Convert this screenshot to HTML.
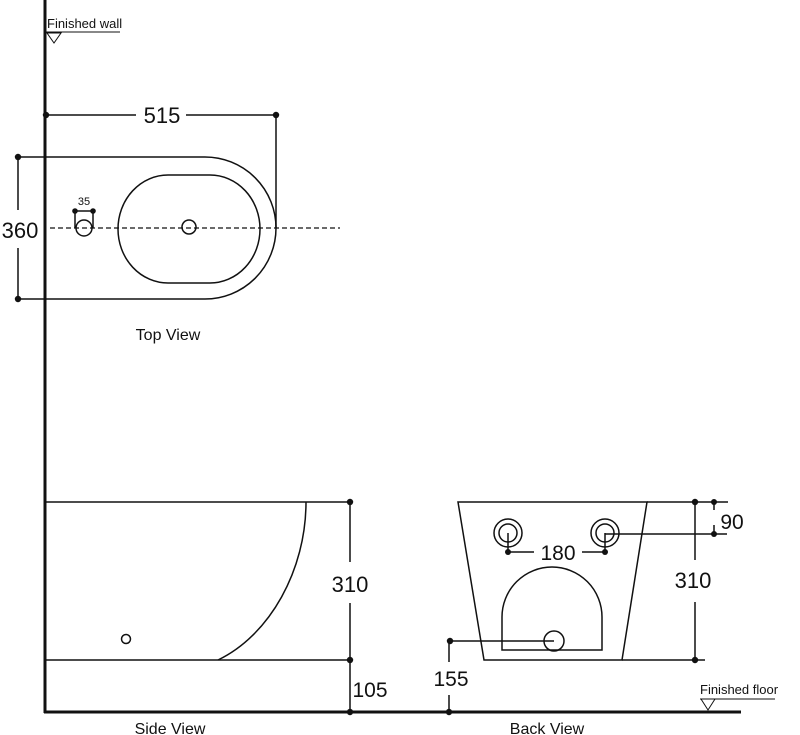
<!DOCTYPE html>
<html><head><meta charset="utf-8"><style>
html,body{margin:0;padding:0;background:#fff;}
svg{display:block;}
text{font-family:"Liberation Sans",sans-serif;fill:#111;}
</style></head><body>
<svg width="800" height="735" viewBox="0 0 800 735" xmlns="http://www.w3.org/2000/svg">
<g stroke="#111" fill="none" stroke-width="1.5">
<!-- wall & floor -->
<line x1="45" y1="0" x2="45" y2="713" stroke-width="3"/>
<line x1="44" y1="712" x2="741" y2="712" stroke-width="3"/>
<!-- finished wall marker -->
<line x1="45" y1="32" x2="120" y2="32" stroke-width="1"/>
<path d="M47 33 L61 33 L54 43 Z" stroke-width="1"/>
<!-- top view -->
<path d="M18 157 L205 157 A71 71 0 0 1 205 299 L18 299"/>
<path d="M168 175 L210 175 A50 54 0 0 1 210 283 L168 283 A50 54 0 0 1 168 175 Z"/>
<circle cx="189" cy="227" r="7"/>
<circle cx="84" cy="228" r="8"/>
<line x1="75" y1="211" x2="93" y2="211"/>
<line x1="75" y1="211" x2="75" y2="228"/>
<line x1="93" y1="211" x2="93" y2="228"/>
<line x1="50" y1="228" x2="340" y2="228" stroke-dasharray="5,3" stroke-width="1.2"/>
<line x1="46" y1="115" x2="136" y2="115"/>
<line x1="186" y1="115" x2="276" y2="115"/>
<line x1="276" y1="115" x2="276" y2="228"/>
<line x1="18" y1="157" x2="18" y2="210"/>
<line x1="18" y1="248" x2="18" y2="299"/>
<!-- side view -->
<line x1="45" y1="502" x2="350" y2="502"/>
<line x1="45" y1="660" x2="350" y2="660"/>
<path d="M306 502 C306 570 270 635 218 660"/>
<circle cx="126" cy="639" r="4.5"/>
<line x1="350" y1="502" x2="350" y2="562"/>
<line x1="350" y1="603" x2="350" y2="712"/>
<!-- back view -->
<path d="M458 502 L647 502 L622 660 L484 660 Z"/>
<line x1="647" y1="502" x2="728" y2="502"/>
<line x1="622" y1="660" x2="705" y2="660"/>
<circle cx="508" cy="533" r="14"/><circle cx="508" cy="533" r="9"/>
<circle cx="605" cy="533" r="14"/><circle cx="605" cy="533" r="9"/>
<line x1="508" y1="533" x2="508" y2="552"/>
<line x1="605" y1="533" x2="605" y2="552"/>
<line x1="605" y1="534" x2="727" y2="534"/>
<line x1="508" y1="552" x2="534" y2="552"/>
<line x1="582" y1="552" x2="605" y2="552"/>
<path d="M502 650 L502 617 A50 50 0 0 1 602 617 L602 650 Z"/>
<circle cx="554" cy="641" r="10"/>
<line x1="450" y1="641" x2="554" y2="641"/>
<line x1="449" y1="641" x2="449" y2="662"/>
<line x1="449" y1="695" x2="449" y2="712"/>
<line x1="695" y1="502" x2="695" y2="560"/>
<line x1="695" y1="602" x2="695" y2="660"/>
<line x1="714" y1="502" x2="714" y2="510"/>
<line x1="714" y1="525" x2="714" y2="534"/>
<!-- finished floor -->
<line x1="700" y1="699" x2="775" y2="699" stroke-width="1"/>
<path d="M701 699 L715 699 L708 710 Z" stroke-width="1"/>
</g>
<g fill="#111">
<circle cx="46" cy="115" r="3.2"/><circle cx="276" cy="115" r="3.2"/>
<circle cx="18" cy="157" r="3.2"/><circle cx="18" cy="299" r="3.2"/>
<circle cx="75" cy="211" r="2.8"/><circle cx="93" cy="211" r="2.8"/>
<circle cx="350" cy="502" r="3.2"/><circle cx="350" cy="660" r="3.2"/><circle cx="350" cy="712" r="3.2"/>
<circle cx="695" cy="502" r="3.2"/><circle cx="695" cy="660" r="3.2"/>
<circle cx="714" cy="502" r="3"/><circle cx="714" cy="534" r="3"/>
<circle cx="508" cy="552" r="3"/><circle cx="605" cy="552" r="3"/>
<circle cx="450" cy="641" r="3.2"/><circle cx="449" cy="712" r="3.2"/>
</g>
<text x="47" y="28" font-size="13">Finished wall</text>
<text x="162" y="123" font-size="22" text-anchor="middle">515</text>
<text x="20" y="238" font-size="22" text-anchor="middle">360</text>
<text x="84" y="205" font-size="11" text-anchor="middle">35</text>
<text x="168" y="340" font-size="16" text-anchor="middle">Top View</text>
<text x="350" y="592" font-size="22" text-anchor="middle">310</text>
<text x="370" y="697" font-size="21" text-anchor="middle">105</text>
<text x="170" y="734" font-size="16" text-anchor="middle">Side View</text>
<text x="558" y="560" font-size="21" text-anchor="middle">180</text>
<text x="732" y="529" font-size="21" text-anchor="middle">90</text>
<text x="693" y="588" font-size="22" text-anchor="middle">310</text>
<text x="451" y="686" font-size="21" text-anchor="middle">155</text>
<text x="700" y="694" font-size="13">Finished floor</text>
<text x="547" y="734" font-size="16" text-anchor="middle">Back View</text>
</svg>
</body></html>
